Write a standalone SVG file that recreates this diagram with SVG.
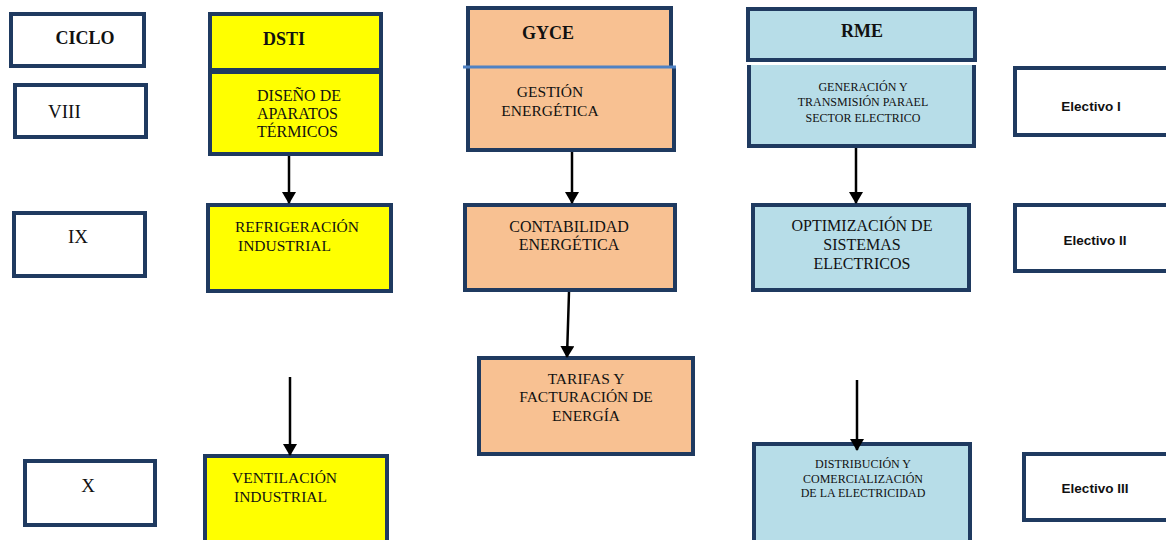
<svg xmlns="http://www.w3.org/2000/svg" width="1166" height="540" viewBox="0 0 1166 540">
<defs>
<style>
.bw{fill:#ffffff;stroke:#1F3A60;stroke-width:4}
.by{fill:#FFFF00;stroke:#1F3A60;stroke-width:4}
.bo{fill:#F8C192;stroke:#1F3A60;stroke-width:4}
.bb{fill:#B7DDE8;stroke:#1F3A60;stroke-width:4}
.edge{fill:none;stroke:#1F3A60;stroke-width:4}
.t{fill:#111111}
.h{font-weight:bold;font-size:18px;fill:#111111}
.c{text-anchor:middle}
.e{font-weight:bold;font-size:13.5px;fill:#111111;text-anchor:middle}
.arr{stroke:#000000;stroke-width:2.5;fill:none;marker-end:url(#ah)}
</style>
<marker id="ah" viewBox="0 0 12 14" refX="11" refY="7" markerWidth="12" markerHeight="14" markerUnits="userSpaceOnUse" orient="auto">
<path d="M0,0 L12,7 L0,14 Z" fill="#000000"/>
</marker>
</defs>
<g font-family="Liberation Serif, DejaVu Serif, serif">
<g id="ciclo"><rect class="bw" x="11" y="14" width="133" height="52"/><text class="h c" x="85" y="44">CICLO</text></g>
<g id="viii"><rect class="bw" x="15" y="85" width="131" height="52"/><text class="t" x="48" y="118" font-size="19">VIII</text></g>
<g id="ix"><rect class="bw" x="14" y="213" width="131" height="63"/><text class="t c" x="78" y="243" font-size="19">IX</text></g>
<g id="x"><rect class="bw" x="25" y="461" width="130" height="64"/><text class="t c" x="88" y="492" font-size="19">X</text></g>

<g id="dsti"><rect class="by" x="210" y="14" width="171" height="56"/><text class="h" x="263" y="45">DSTI</text></g>
<g id="diseno"><rect class="by" x="210" y="72" width="171" height="82"/>
<text class="t" font-size="16" x="257" y="101">DISEÑO DE</text>
<text class="t" font-size="16" x="257" y="119">APARATOS</text>
<text class="t" font-size="16" x="257" y="137">TÉRMICOS</text></g>
<g id="refrigeracion"><rect class="by" x="208" y="205" width="183" height="86"/>
<text class="t" font-size="15.5" x="235" y="232">REFRIGERACIÓN</text>
<text class="t" font-size="15.5" x="238" y="251">INDUSTRIAL</text></g>
<g id="ventilacion"><rect class="by" x="205" y="456" width="182" height="100"/>
<text class="t" font-size="15.5" x="232" y="483">VENTILACIÓN</text>
<text class="t" font-size="15.5" x="234" y="502">INDUSTRIAL</text></g>

<g id="gyce"><rect x="468" y="8" width="203" height="59" fill="#F8C192"/><path class="edge" d="M468,67 V8 H671 V67"/><text class="h" x="522" y="39">GYCE</text></g>
<g id="gestion"><rect x="468" y="67" width="206" height="83" fill="#F8C192"/><path class="edge" d="M468,67 V150 H674 V67"/>
<line x1="463" y1="67" x2="676" y2="67" stroke="#4F82C4" stroke-width="3"/>
<text class="t c" font-size="15.5" x="550" y="97">GESTIÓN</text>
<text class="t c" font-size="15.5" x="550" y="116">ENERGÉTICA</text></g>
<g id="contabilidad"><rect class="bo" x="465" y="205" width="210" height="85"/>
<text class="t c" font-size="16" x="569" y="232">CONTABILIDAD</text>
<text class="t c" font-size="16" x="569" y="250">ENERGÉTICA</text></g>
<g id="tarifas"><rect class="bo" x="479" y="358" width="214" height="96"/>
<text class="t c" font-size="15.5" x="586" y="384">TARIFAS Y</text>
<text class="t c" font-size="15.5" x="586" y="402">FACTURACIÓN DE</text>
<text class="t c" font-size="15.5" x="586" y="421">ENERGÍA</text></g>

<g id="rme"><rect class="bb" x="748" y="9" width="227" height="51"/><text class="h c" x="862" y="37">RME</text></g>
<g id="generacion"><rect x="749" y="65" width="225" height="81" fill="#B7DDE8"/><path class="edge" d="M749,65 V146 H974 V65"/>
<text class="t c" font-size="12" x="863" y="91">GENERACIÓN Y</text>
<text class="t c" font-size="12" x="863" y="106">TRANSMISIÓN PARAEL</text>
<text class="t c" font-size="12" x="863" y="122">SECTOR ELECTRICO</text></g>
<g id="optimizacion"><rect class="bb" x="753" y="205" width="216" height="85"/>
<text class="t c" font-size="16" x="862" y="231">OPTIMIZACIÓN DE</text>
<text class="t c" font-size="16" x="862" y="250">SISTEMAS</text>
<text class="t c" font-size="16" x="862" y="269">ELECTRICOS</text></g>
<g id="distribucion"><rect class="bb" x="754" y="444" width="216" height="110"/>
<text class="t c" font-size="12" x="863" y="468">DISTRIBUCIÓN Y</text>
<text class="t c" font-size="12" x="863" y="483">COMERCIALIZACIÓN</text>
<text class="t c" font-size="12" x="863" y="497">DE LA ELECTRICIDAD</text></g>
</g>
<g font-family="Liberation Sans, Arial, sans-serif">
<g id="electivo1"><rect class="bw" x="1015" y="68" width="160" height="67"/><text class="e" x="1091" y="111">Electivo I</text></g>
<g id="electivo2"><rect class="bw" x="1015" y="205" width="160" height="66"/><text class="e" x="1095" y="245">Electivo II</text></g>
<g id="electivo3"><rect class="bw" x="1024" y="454" width="160" height="66"/><text class="e" x="1095" y="493">Electivo III</text></g>
</g>
<g id="connectors">
<line class="arr" x1="289" y1="156" x2="289" y2="203"/>
<line class="arr" x1="572" y1="152" x2="572" y2="203"/>
<line class="arr" x1="569" y1="292" x2="567" y2="357"/>
<line class="arr" x1="856" y1="148" x2="856" y2="203"/>
<line class="arr" x1="290" y1="377" x2="290" y2="455"/>
<line class="arr" x1="857" y1="380" x2="857" y2="450"/>
</g>
</svg>
